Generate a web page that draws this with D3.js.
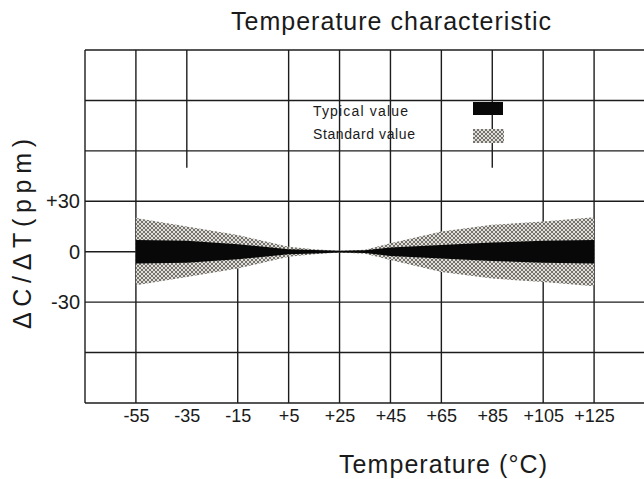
<!DOCTYPE html>
<html>
<head>
<meta charset="utf-8">
<script src="https://cdn.jsdelivr.net/npm/d3@7"></script>
<style>
  html, body { margin: 0; padding: 0; background: #fff; }
  svg { display: block; }
  text { font-family: "Liberation Sans", Arial, sans-serif; fill: #1a1a1a; }
</style>
</head>
<body>
<svg id="chart" width="644" height="479"></svg>
<script>
// ---- data ----
const temperatures = [-55, -35, -15, 5, 15, 25, 35, 45, 65, 85, 105, 125];
const standardHalf = [20, 15, 10, 3, 1.5, 0.5, 1.2, 5, 12, 16, 18, 20.5];
const typicalHalf  = [7, 6.5, 4.5, 1.5, 1, 0.5, 0.8, 2.5, 4, 5.5, 6.5, 7];
const xTickValues = [-55, -35, -15, 5, 25, 45, 65, 85, 105, 125];
const xTickLabels = ["-55", "-35", "-15", "+5", "+25", "+45", "+65", "+85", "+105", "+125"];
const yTickValues = [30, 0, -30];
const yTickLabels = ["+30", "0", "-30"];
const hGridValues = [120, 90, 60, 30, -30, -60, -90];
// vertical grid lines: temperature, ppm from, ppm to
const vGridTemps = [-75, -55, -35, -15, 5, 25, 45, 65, 85, 105, 125];
const vGridFrom  = [120, 120, 120, 0, 120, 120, 120, 120, 120, 120, 120];
const vGridTo    = [-90, -90, 50, -90, -90, -90, -90, -90, 50, -90, -90];
const legendLabels = ["Typical value", "Standard value"];

// ---- scales ----
const svg = d3.select("#chart");
const x = d3.scaleLinear().domain([-75, 145]).range([85, 645]);
const y = d3.scaleLinear().domain([-90, 120]).range([403, 50]);

// pattern for standard band
const defs = svg.append("defs");
const pat = defs.append("pattern")
  .attr("id", "hatch").attr("patternUnits", "userSpaceOnUse")
  .attr("width", 4).attr("height", 4);
pat.append("rect").attr("width", 4).attr("height", 4).attr("fill", "#e2ded6");
pat.append("path").attr("d", "M0,0 L4,4 M4,0 L0,4")
  .attr("stroke", "#666").attr("stroke-width", 0.9);

const stroke = "#1c1c1c";
const sw = 1.4;

// ---- grid ----
const grid = svg.append("g");
grid.selectAll("line.h").data(hGridValues).join("line")
  .attr("x1", x(-75)).attr("x2", x(145))
  .attr("y1", d => y(d)).attr("y2", d => y(d))
  .attr("stroke", stroke).attr("stroke-width", sw);
grid.append("line")
  .attr("x1", x(-75)).attr("x2", x(125))
  .attr("y1", y(0)).attr("y2", y(0))
  .attr("stroke", stroke).attr("stroke-width", sw);
grid.selectAll("line.v").data(vGridTemps).join("line")
  .attr("x1", d => x(d)).attr("x2", d => x(d))
  .attr("y1", (d, i) => y(vGridFrom[i])).attr("y2", (d, i) => y(vGridTo[i]))
  .attr("stroke", stroke).attr("stroke-width", sw);

// ---- bands ----
const bandData = temperatures.map((t, i) => ({ t, s: standardHalf[i], k: typicalHalf[i] }));
const stdArea = d3.area().x(d => x(d.t)).y0(d => y(-d.s)).y1(d => y(d.s));
const typArea = d3.area().x(d => x(d.t)).y0(d => y(-d.k)).y1(d => y(d.k));
svg.append("path").datum(bandData).attr("d", stdArea).attr("fill", "url(#hatch)");
svg.append("path").datum(bandData).attr("d", typArea).attr("fill", "#080808");

// ---- axes ----
const xAxis = d3.axisBottom(x).tickValues(xTickValues)
  .tickFormat((d, i) => xTickLabels[i]).tickSize(0).tickPadding(6);
const gx = svg.append("g").attr("transform", `translate(0,${y(-90)})`).call(xAxis);
gx.select(".domain").remove();
gx.selectAll("text").attr("font-size", 18).attr("fill", "#1a1a1a")
  .attr("font-family", "Liberation Sans, Arial, sans-serif");

const yAxis = d3.axisLeft(y).tickValues(yTickValues)
  .tickFormat((d, i) => yTickLabels[i]).tickSize(0).tickPadding(5);
const gy = svg.append("g").attr("transform", `translate(${x(-75)},0)`).call(yAxis);
gy.select(".domain").remove();
gy.selectAll("text").attr("font-size", 20).attr("fill", "#1a1a1a")
  .attr("font-family", "Liberation Sans, Arial, sans-serif");

// ---- titles ----
svg.append("text").attr("x", 391).attr("y", 30).attr("text-anchor", "middle")
  .attr("font-size", 25).attr("textLength", 320).attr("lengthAdjust", "spacing")
  .text("Temperature characteristic");
svg.append("text").attr("x", 443).attr("y", 473).attr("text-anchor", "middle")
  .attr("font-size", 25).attr("textLength", 208).attr("lengthAdjust", "spacing")
  .text("Temperature (°C)");
svg.append("text").attr("transform", "translate(31,234) rotate(-90)")
  .attr("text-anchor", "middle")
  .attr("font-size", 25).attr("textLength", 190).attr("lengthAdjust", "spacing")
  .text("ΔC/ΔT(ppm)");

// ---- legend ----
const leg = svg.append("g");
leg.selectAll("text").data(legendLabels).join("text")
  .attr("x", 313).attr("y", (d, i) => 116 + i * 23)
  .attr("font-size", 14).attr("textLength", (d, i) => i === 0 ? 95 : 102)
  .attr("lengthAdjust", "spacing").text(d => d);
leg.append("rect").attr("x", 473).attr("y", 102).attr("width", 30).attr("height", 13).attr("fill", "#080808");
leg.append("rect").attr("x", 473).attr("y", 129).attr("width", 31).attr("height", 14).attr("fill", "url(#hatch)");
</script>
</body>
</html>
